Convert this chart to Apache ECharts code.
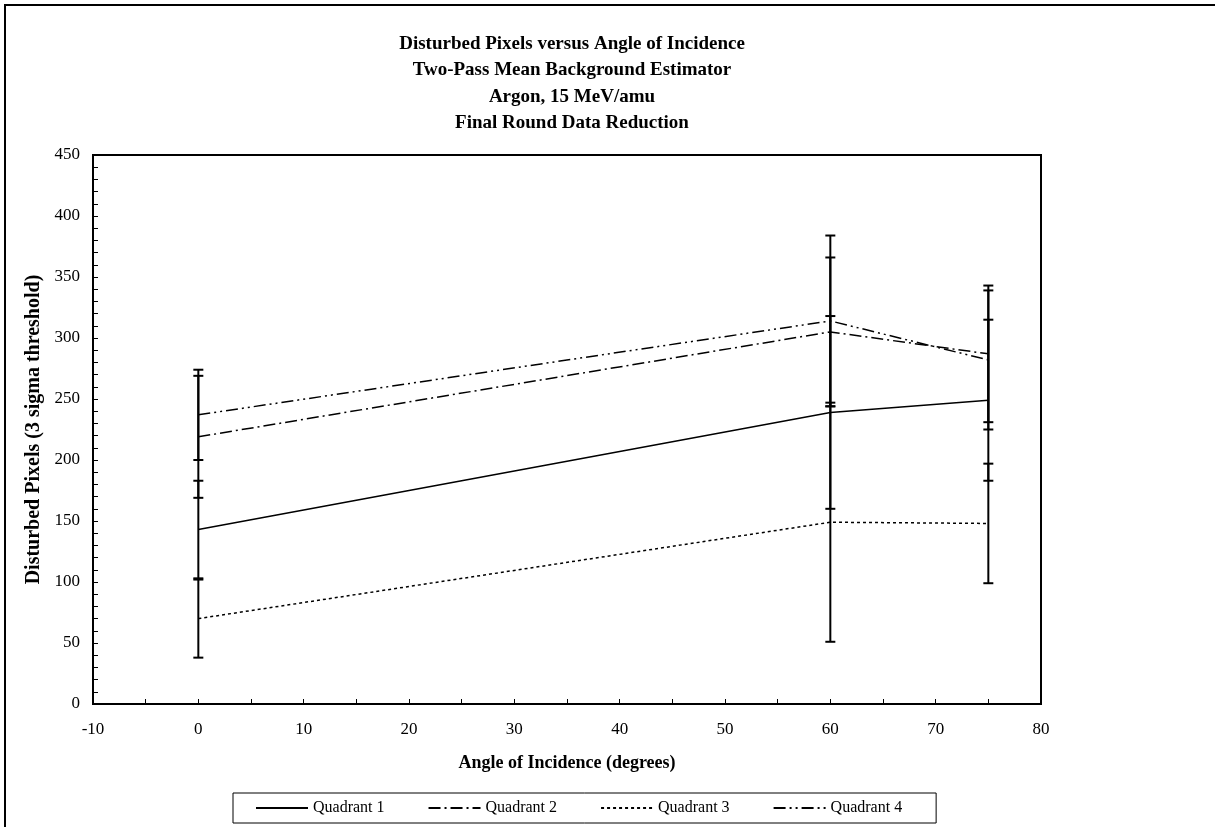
<!DOCTYPE html>
<html>
<head>
<meta charset="utf-8">
<script src="https://cdn.jsdelivr.net/npm/echarts@6/dist/echarts.min.js"></script>
<style>
html,body{margin:0;padding:0;background:#fff;}
#chart{width:1215px;height:827px;}
</style>
</head>
<body>
<div id="chart"></div>
<script>
// Data
const angles = [0, 60, 75];
const seriesNames = ['Quadrant 1', 'Quadrant 2', 'Quadrant 3', 'Quadrant 4'];
const q1 = [143, 239, 249];
const q2 = [219, 305, 287];
const q3 = [70, 149, 148];
const q4 = [237, 314, 282];
const q1Err = [40, 79, 66];
const q2Err = [50, 61, 56];
const q3Err = [32, 98, 49];
const q4Err = [37, 70, 57];
const titleLines = [
  'Disturbed Pixels versus Angle of Incidence',
  'Two-Pass Mean Background Estimator',
  'Argon, 15 MeV/amu',
  'Final Round Data Reduction'
];

const values = [q1, q2, q3, q4];
const errors = [q1Err, q2Err, q3Err, q4Err];
const dashTypes = ['solid', [12, 4, 2, 4], [3, 3], [12, 4, 2, 4, 2, 4]];
const FONT = '"Liberation Serif", "Times New Roman", serif';

const chart = echarts.init(document.getElementById('chart'));

const lineSeries = seriesNames.map((name, i) => ({
  name: name,
  type: 'line',
  data: angles.map((a, j) => [a, values[i][j]]),
  symbol: 'none',
  lineStyle: { color: '#000', width: 1.5, type: dashTypes[i] },
  itemStyle: { color: '#000' },
  z: 3
}));

const errSeries = seriesNames.map((name, i) => ({
  name: name + ' error',
  type: 'custom',
  data: angles.map((a, j) => [a, values[i][j] - errors[i][j], values[i][j] + errors[i][j]]),
  encode: { x: 0, y: [1, 2] },
  renderItem: function (params, api) {
    const lo = api.coord([api.value(0), api.value(1)]);
    const hi = api.coord([api.value(0), api.value(2)]);
    const hw = 5;
    const st = { stroke: '#000', lineWidth: 2 };
    return {
      type: 'group',
      children: [
        { type: 'line', shape: { x1: lo[0], y1: lo[1], x2: hi[0], y2: hi[1] }, style: st },
        { type: 'line', shape: { x1: lo[0] - hw, y1: lo[1], x2: lo[0] + hw, y2: lo[1] }, style: st },
        { type: 'line', shape: { x1: hi[0] - hw, y1: hi[1], x2: hi[0] + hw, y2: hi[1] }, style: st }
      ]
    };
  },
  z: 4,
  silent: true
}));

chart.setOption({
  backgroundColor: '#fff',
  animation: false,
  textStyle: { fontFamily: FONT, color: '#000' },
  title: {
    text: titleLines.join('\n'),
    left: 567,
    top: 26,
    textAlign: 'center',
    textStyle: { fontFamily: FONT, fontSize: 19, fontWeight: 'bold', lineHeight: 26.3, color: '#000' }
  },
  legend: {
    data: seriesNames,
    left: 233,
    top: 793,
    itemWidth: 52,
    itemHeight: 14,
    itemGap: 43,
    padding: [7, 34, 7, 22],
    borderColor: '#000',
    borderWidth: 1,
    itemStyle: { opacity: 0 },
    textStyle: { fontFamily: FONT, fontSize: 16, color: '#000' }
  },
  grid: {
    left: 93, top: 155, width: 948, height: 549,
    show: true, borderColor: '#000', borderWidth: 2, backgroundColor: '#fff'
  },
  xAxis: {
    type: 'value',
    min: -10, max: 80, interval: 10,
    name: 'Angle of Incidence (degrees)',
    nameLocation: 'middle',
    nameGap: 50,
    nameTextStyle: { fontFamily: FONT, fontSize: 18, fontWeight: 'bold', color: '#000' },
    axisLine: { onZero: false, lineStyle: { color: '#000', width: 2 } },
    axisTick: { inside: true, length: 5, lineStyle: { color: '#000' } },
    minorTick: { show: true, splitNumber: 2, length: 5, lineStyle: { color: '#000' } },
    splitLine: { show: false },
    axisLabel: { fontFamily: FONT, fontSize: 17, color: '#000', margin: 17 }
  },
  yAxis: {
    type: 'value',
    min: 0, max: 450, interval: 50,
    name: 'Disturbed Pixels (3 sigma threshold)',
    nameLocation: 'middle',
    nameGap: 48,
    nameTextStyle: { fontFamily: FONT, fontSize: 20, fontWeight: 'bold', color: '#000' },
    axisLine: { onZero: false, lineStyle: { color: '#000', width: 2 } },
    axisTick: { inside: true, length: 5, lineStyle: { color: '#000' } },
    minorTick: { show: true, splitNumber: 5, length: 5, lineStyle: { color: '#000' } },
    splitLine: { show: false },
    axisLabel: { fontFamily: FONT, fontSize: 17, color: '#000', margin: 13 }
  },
  graphic: [
    { type: 'rect', shape: { x: 5, y: 5, width: 1400, height: 1000 }, style: { fill: null, stroke: '#000', lineWidth: 2 }, silent: true, z: -10 }
  ],
  series: lineSeries.concat(errSeries)
});
</script>
</body>
</html>
